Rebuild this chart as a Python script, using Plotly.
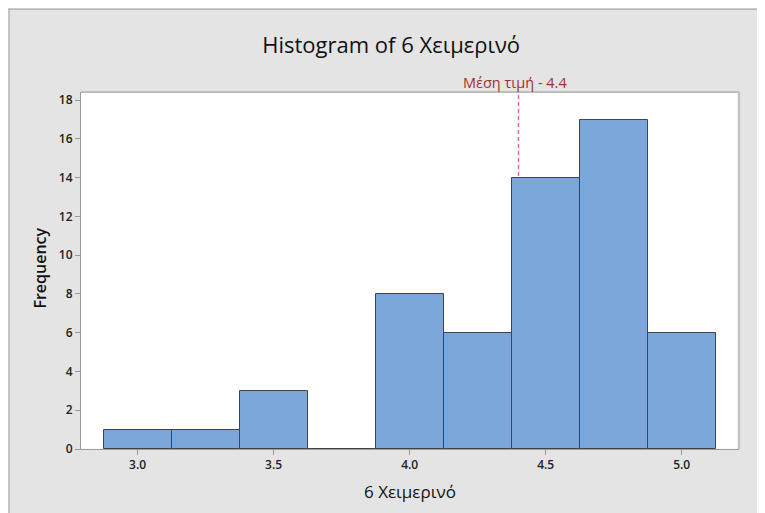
import plotly.graph_objects as go

bin_centers = [3.0, 3.25, 3.5, 3.75, 4.0, 4.25, 4.5, 4.75, 5.0]
counts = [1, 1, 3, 0, 8, 6, 14, 17, 6]
bin_width = 0.25
mean_value = 4.4
mean_label = "Μέση τιμή - 4.4"
x_ticks = [3.0, 3.5, 4.0, 4.5, 5.0]
x_tick_text = ["3.0", "3.5", "4.0", "4.5", "5.0"]
y_ticks = [0, 2, 4, 6, 8, 10, 12, 14, 16, 18]

FONT = "Open Sans"
W, H = 757, 505
L, R, T, B = 72.7, 26, 83.5, 64
pw = W - L - R
ph = H - T - B

def px_x(x):
    return (x - L) / pw

def px_y(y):
    return (H - B - y) / ph

fig = go.Figure()
fig.add_trace(go.Bar(
    x=bin_centers, y=counts, width=bin_width,
    marker=dict(color="#7BA6DA", line=dict(color="#444444", width=1)),
    hoverinfo="x+y",
))

shapes = [
    # panel border lines (top, left)
    dict(type="line", xref="paper", yref="paper", x0=px_x(0), x1=px_x(W), y0=px_y(0.7), y1=px_y(0.7),
         line=dict(color="#b8b8b8", width=1.5), layer="below"),
    dict(type="line", xref="paper", yref="paper", x0=px_x(0.7), x1=px_x(0.7), y0=px_y(0), y1=px_y(H),
         line=dict(color="#b8b8b8", width=1.5), layer="below"),
    # mean reference line
    dict(type="line", xref="x", yref="paper", x0=mean_value, x1=mean_value, y0=0, y1=1,
         line=dict(color="#E8707A", width=1.5, dash="4px,3px"), layer="below"),
    # frame top/right
    dict(type="line", xref="paper", yref="paper", x0=0, x1=1, y0=1, y1=1,
         line=dict(color="#bdbdbd", width=2)),
    dict(type="line", xref="paper", yref="paper", x0=1, x1=1, y0=0, y1=1,
         line=dict(color="#c4c4c4", width=2.5)),
]

fig.update_layout(
    width=W, height=H,
    margin=dict(l=L, r=R, t=T, b=B, pad=0),
    paper_bgcolor="#E4E4E4",
    plot_bgcolor="white",
    showlegend=False,
    bargap=0,
    font=dict(family=FONT, color="#222222"),
    title=dict(text="Histogram of 6 Χειμερινό", x=px_x(383), xanchor="center", xref="paper",
               y=1 - 37 / H, yanchor="middle",
               font=dict(family=FONT, size=22, color="#111111", weight=500)),
    shapes=shapes,
    annotations=[
        dict(text=mean_label, x=mean_value, xref="x", y=px_y(74), yref="paper",
             xanchor="center", xshift=-3, yanchor="middle", showarrow=False,
             font=dict(family=FONT, size=14.5, color="#A3302F", weight=500)),
        dict(text="6 Χειμερινό", x=px_x(402), xref="paper", y=px_y(484), yref="paper",
             xanchor="center", yanchor="middle", showarrow=False,
             font=dict(family=FONT, size=17, color="#111111", weight=500)),
        dict(text="Frequency", x=px_x(32), xref="paper", y=px_y(260), yref="paper",
             xanchor="center", yanchor="middle", showarrow=False, textangle=-90,
             font=dict(family=FONT, size=16, color="#111111", weight=600)),
    ],
    xaxis=dict(
        range=[2.792, 5.2106], tickvals=x_ticks, ticktext=x_tick_text,
        showgrid=False, zeroline=False, showline=True, linecolor="#9a9a9a", linewidth=1,
        ticks="outside", ticklen=5, tickcolor="#9a9a9a",
        tickfont=dict(family=FONT, size=12, color="#222222", weight=600),
    ),
    yaxis=dict(
        range=[0, 18.42], tickvals=y_ticks,
        showgrid=False, zeroline=False, showline=True, linecolor="#9a9a9a", linewidth=1,
        ticks="outside", ticklen=5, tickcolor="#9a9a9a",
        tickfont=dict(family=FONT, size=12, color="#222222", weight=600),
    ),
)

fig.write_html("out.html")
